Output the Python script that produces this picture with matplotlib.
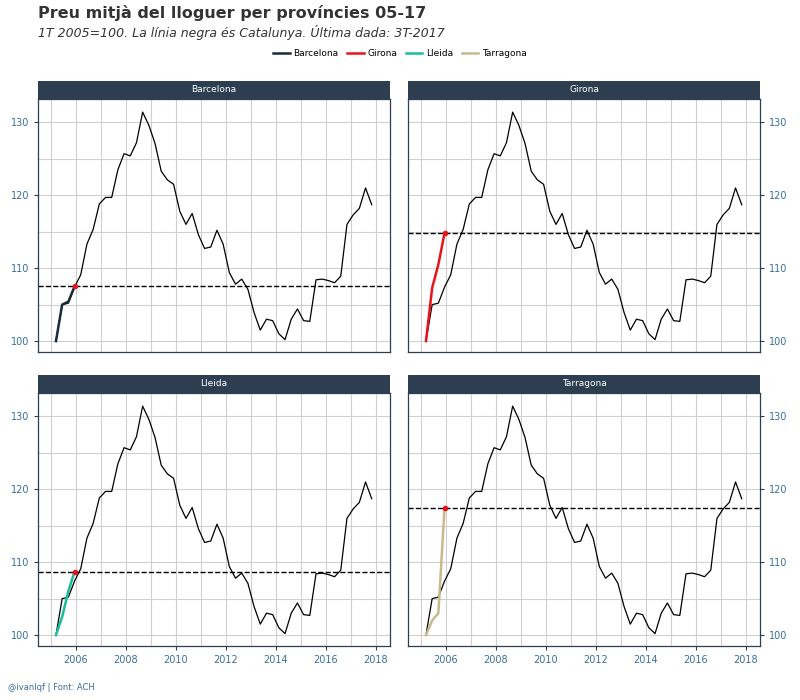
import numpy as np
import matplotlib.pyplot as plt
from matplotlib.ticker import MultipleLocator

# Catalunya, quarterly 1T 2005 .. 3T 2017 (index 1T 2005 = 100)
cat = [100, 105.0, 105.2, 107.4, 109.1, 113.3, 115.3, 118.8, 119.7, 119.7,
       123.5, 125.7, 125.4, 127.2, 131.4, 129.6, 127.1, 123.3, 122.1, 121.5,
       117.8, 116.0, 117.5, 114.6, 112.7, 112.9, 115.2, 113.3, 109.4, 107.8,
       108.5, 107.1, 103.9, 101.5, 103.0, 102.8, 101.0, 100.2, 103.0, 104.4,
       102.8, 102.7, 108.4, 108.5, 108.3, 108.0, 108.9, 116.0, 117.3, 118.2,
       121.0, 118.7]
dates = 2005.2 + np.arange(len(cat)) * 0.248

provinces = ['Barcelona', 'Girona', 'Lleida', 'Tarragona']
prov_vals = {
    'Barcelona': [100, 105.0, 105.4, 107.5],
    'Girona': [100, 107.3, 110.5, 114.8],
    'Lleida': [100, 102.5, 106.0, 108.7],
    'Tarragona': [100, 102.0, 103.0, 117.4],
}
colors = {'Barcelona': '#1c2b3a', 'Girona': '#e8141c',
          'Lleida': '#1abc9c', 'Tarragona': '#c9b98f'}

fig = plt.figure(figsize=(8, 7), dpi=100)
W, H = 800, 700
panels = {'Barcelona': (38, 81), 'Girona': (408, 81),
          'Lleida': (38, 375), 'Tarragona': (408, 375)}
pw, ph, sh = 352, 271, 18
tickc = '#3a6f9a'

for i, p in enumerate(provinces):
    x0, y0 = panels[p]
    sax = fig.add_axes([x0 / W, 1 - (y0 + sh) / H, pw / W, sh / H])
    sax.set_facecolor('#2c3e50')
    sax.set_xticks([]); sax.set_yticks([])
    for s in sax.spines.values():
        s.set_visible(False)
    sax.text(0.5, 0.5, p, color='white', fontsize=6.5, ha='center', va='center',
             transform=sax.transAxes)
    ax = fig.add_axes([x0 / W, 1 - (y0 + ph) / H, pw / W, (ph - sh) / H])
    ax.set_xlim(2004.48, 2018.58)
    ax.set_ylim(98.5, 133.2)
    ax.xaxis.set_major_locator(MultipleLocator(2))
    ax.yaxis.set_major_locator(MultipleLocator(10))
    ax.yaxis.set_minor_locator(MultipleLocator(5))
    ax.xaxis.set_minor_locator(MultipleLocator(1))
    ax.grid(True, which='both', color='#d0d0d0', lw=0.8)
    ax.set_axisbelow(True)
    for s in ax.spines.values():
        s.set_color('#2c3e50'); s.set_linewidth(0.9)
    ax.tick_params(which='minor', length=0)
    ax.tick_params(labelsize=7, colors='#2c3e50', labelcolor=tickc, length=3)
    if i in (1, 3):
        ax.yaxis.tick_right()
    if i < 2:
        ax.tick_params(axis='x', labelbottom=False, length=0)
    ax.plot(dates, cat, color='black', lw=0.9)
    v = prov_vals[p]
    ax.plot(dates[:len(v)], v, color=colors[p], lw=1.8)
    ax.axhline(v[-1], color='black', ls='--', lw=1)
    ax.plot(dates[len(v) - 1], v[-1], 'o', color='#e8141c', ms=3)

fig.text(38 / W, 1 - 13 / H, 'Preu mitjà del lloguer per províncies 05-17',
         fontsize=11.5, fontweight='bold', color='#333333', va='center')
fig.text(38 / W, 1 - 32 / H,
         '1T 2005=100. La línia negra és Catalunya. Última dada: 3T-2017',
         fontsize=9, style='italic', color='#333333', va='center')
handles = [plt.Line2D([], [], color=colors[p], lw=1.8) for p in provinces]
fig.legend(handles, provinces, loc='center', bbox_to_anchor=(0.5, 1 - 54 / H),
           ncol=4, frameon=False, fontsize=6.5, handlelength=1.8,
           columnspacing=1.0, handletextpad=0.4)
fig.text(8 / W, 1 - 688 / H, '@ivanlqf | Font: ACH', fontsize=6,
         color=tickc, va='center')
fig.savefig('out.png', dpi=100, facecolor='white')
